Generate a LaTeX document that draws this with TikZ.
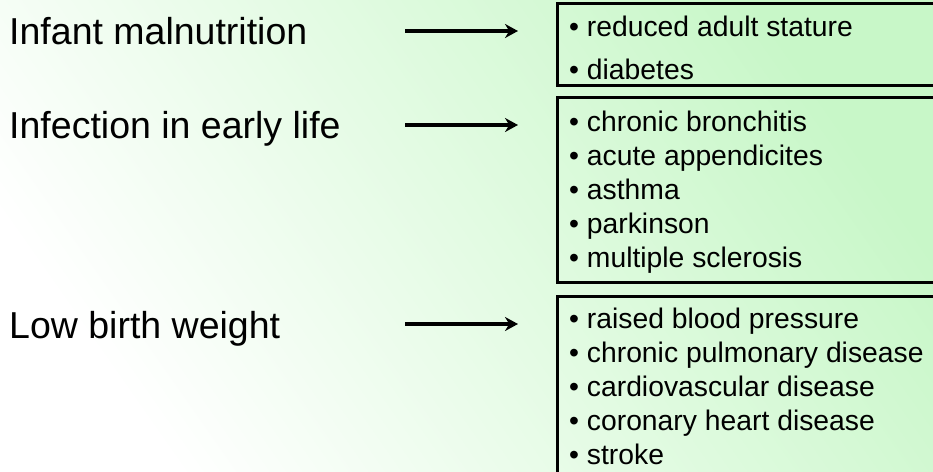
\documentclass[tikz,border=0pt]{standalone}
\usepackage{fontspec}
\setmainfont{Liberation Sans}
\usetikzlibrary{arrows.meta}
\definecolor{paleGreen}{RGB}{200,247,200}

\begin{document}
\begin{tikzpicture}[x = 1pt, y = -1pt,
	cause/.style = {anchor = base west, inner sep = 0pt, font = \fontsize{37.5}{45}\selectfont},
	item/.style = {anchor = base west, inner sep = 0pt, font = \fontsize{28.3}{34}\selectfont},
	listbox/.style = {draw, line width = 3pt, anchor = north west, outer sep = 0pt, inner sep = 0pt, minimum width = 500pt},
	leads/.style = {-{Stealth[length = 13pt, width = 14pt]}, line width = 4pt, shorten > = 39pt}]
	\useasboundingbox (0,0) rectangle (933,471);
	\shade[top color = paleGreen, bottom color = white, shading angle = -55] (0,0) rectangle (933,471);
	\node[cause] (infant) at (9,44) {Infant malnutrition};
	\node[cause] (infection) at (9,138) {Infection in early life};
	\node[cause] (lowweight) at (9,338) {Low birth weight};
	\node[listbox, minimum height = 82pt] (adultbox) at (557,3) {};
	\node[listbox, minimum height = 185pt] (chronicbox) at (557,97) {};
	\node[listbox, minimum height = 200pt] (cardiobox) at (557,296) {};
	\node[item] (adult1) at (569,36) {• reduced adult stature};
	\node[item] (adult2) at (569,79) {• diabetes};
	\foreach \txt [count = \i from 0] in {chronic bronchitis, acute appendicites, asthma, parkinson, multiple sclerosis}
		\node[item] (chronic\i) at (569,131+34*\i) {• \txt};
	\foreach \txt [count = \i from 0] in {raised blood pressure, chronic pulmonary disease, cardiovascular disease, coronary heart disease, stroke}
		\node[item] (cardio\i) at (569,328+34*\i) {• \txt};
	\coordinate (arrInfant) at (405,31);
	\coordinate (arrInfection) at (405,125);
	\coordinate (arrLowweight) at (405,324);
	\draw[leads] (arrInfant) -- (arrInfant -| adultbox.west);
	\draw[leads] (arrInfection) -- (arrInfection -| chronicbox.west);
	\draw[leads] (arrLowweight) -- (arrLowweight -| cardiobox.west);
\end{tikzpicture}
\end{document}
